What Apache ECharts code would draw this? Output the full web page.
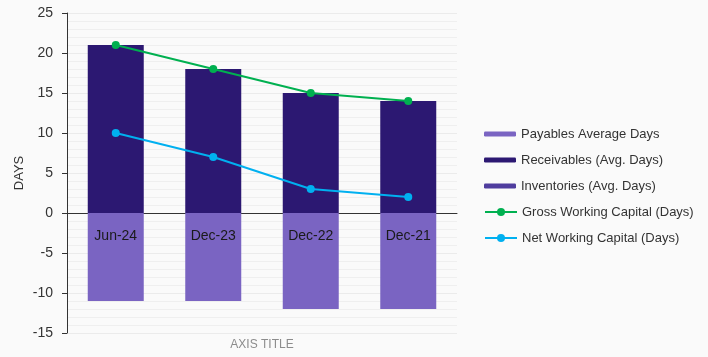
<!DOCTYPE html>
<html><head><meta charset="utf-8">
<script src="https://cdn.jsdelivr.net/npm/echarts@6/dist/echarts.min.js"></script>
<style>html,body{margin:0;padding:0;background:#fafafa}#c{width:708px;height:357px}</style>
</head><body><div id="c"></div>
<script>
const categories = ['Jun-24', 'Dec-23', 'Dec-22', 'Dec-21'];
const payables = [-11, -11, -12, -12];
const receivables = [21, 18, 15, 14];
const inventories = [0, 0, 0, 0];
const grossWC = [21, 18, 15, 14];
const netWC = [10, 7, 3, 2];

const FONT = '"Liberation Sans", Arial, sans-serif';
const chart = echarts.init(document.getElementById('c'));
chart.setOption({
  backgroundColor: '#fafafa',
  animation: false,
  textStyle: { fontFamily: FONT },
  title: {
    text: 'AXIS TITLE', left: 262, top: 339, textAlign: 'center', padding: 0,
    textStyle: { fontSize: 12, fontWeight: 'normal', color: '#8c8c8c', fontFamily: FONT }
  },
  grid: { left: 67, right: 251, top: 13, bottom: 24, containLabel: false, outerBoundsMode: 'none' },
  legend: [
    {
      orient: 'vertical', left: 484, top: 126, padding: 0, itemWidth: 32, itemHeight: 5, itemGap: 10,
      data: ['Payables Average Days', 'Receivables (Avg. Days)', 'Inventories (Avg. Days)'],
      textStyle: { fontSize: 13, color: '#333', lineHeight: 16, fontFamily: FONT }
    },
    {
      orient: 'vertical', left: 484, top: 204, padding: 0, itemWidth: 32, itemHeight: 10, itemGap: 10,
      data: ['Gross Working Capital (Days)', 'Net Working Capital (Days)'],
      textStyle: { fontSize: 13, color: '#333', lineHeight: 16, fontFamily: FONT }
    }
  ],
  xAxis: {
    type: 'category', data: categories,
    axisLine: { onZero: true, lineStyle: { color: '#333', width: 1 } },
    axisTick: { show: false },
    axisLabel: { show: false },
    splitLine: { show: false }
  },
  yAxis: {
    type: 'value', min: -15, max: 25, interval: 5,
    name: 'DAYS', nameLocation: 'middle', nameGap: 41, nameRotate: 90, nameMoveOverlap: false,
    nameTextStyle: { fontSize: 13, color: '#333', fontFamily: FONT },
    axisLine: { show: true, lineStyle: { color: '#333' } },
    axisTick: { show: true, length: 5, lineStyle: { color: '#333' } },
    axisLabel: { margin: 14, fontSize: 14, color: '#333', fontFamily: FONT },
    splitLine: { show: true, lineStyle: { color: '#ebebeb' } },
    minorTick: { show: false, splitNumber: 5 },
    minorSplitLine: { show: true, lineStyle: { color: '#efefef' } }
  },
  series: [
    { name: 'Payables Average Days', type: 'bar', stack: 's', barWidth: 56, data: payables, itemStyle: { color: '#7a64c2' },
      label: { show: true, position: 'insideTop', distance: 16, formatter: '{b}', fontSize: 14, color: '#1a1a1a', fontFamily: FONT } },
    { name: 'Receivables (Avg. Days)', type: 'bar', stack: 's', barWidth: 56, data: receivables, itemStyle: { color: '#2c1872' } },
    { name: 'Inventories (Avg. Days)', type: 'bar', stack: 's', barWidth: 56, data: inventories, itemStyle: { color: '#4f3d9e' } },
    { name: 'Gross Working Capital (Days)', type: 'line', data: grossWC, symbol: 'circle', symbolSize: 8,
      lineStyle: { color: '#00b050', width: 2 }, itemStyle: { color: '#00b050' } },
    { name: 'Net Working Capital (Days)', type: 'line', data: netWC, symbol: 'circle', symbolSize: 8,
      lineStyle: { color: '#00b0f0', width: 2 }, itemStyle: { color: '#00b0f0' } }
  ]
});
</script></body></html>
